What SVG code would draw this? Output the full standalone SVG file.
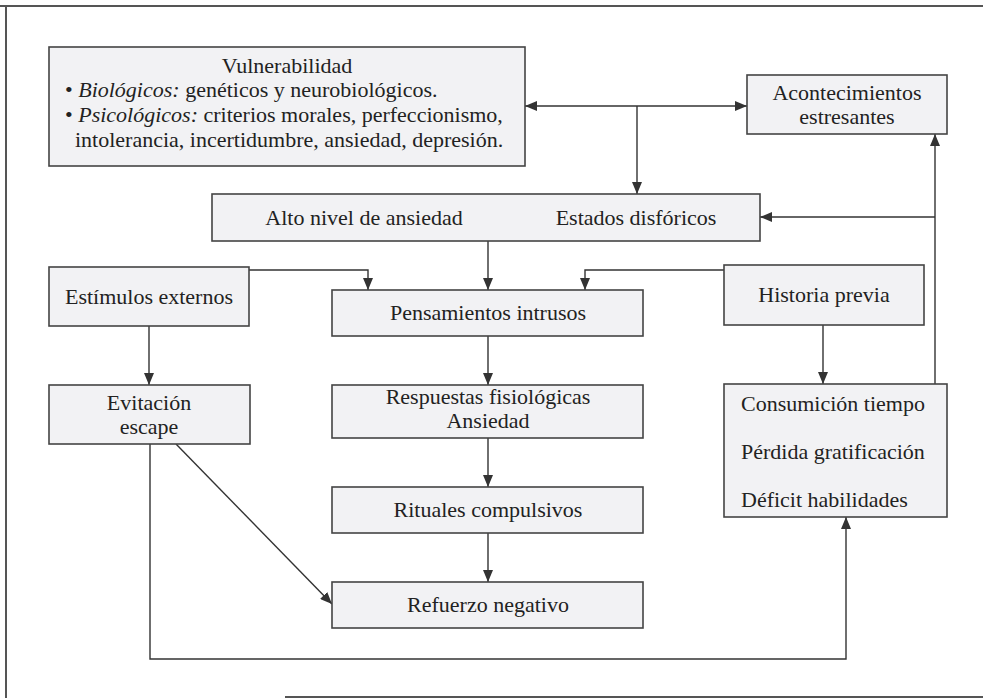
<svg xmlns="http://www.w3.org/2000/svg" width="983" height="698" viewBox="0 0 983 698">
<style>
.box{fill:#f2f2f4;stroke:#444;stroke-width:1.6}
.t{font-family:"Liberation Serif","Times New Roman",serif;font-size:22px;fill:#222}
.c{text-anchor:middle}
.ln{fill:none;stroke:#333;stroke-width:1.4}
.frame{fill:none;stroke:#555;stroke-width:2}
</style>
<defs>
<marker id="ah" viewBox="0 0 12 10" refX="12" refY="5" markerWidth="12" markerHeight="10" markerUnits="userSpaceOnUse" orient="auto-start-reverse">
<path d="M0,0 L12,5 L0,10 z" fill="#333"/>
</marker>
</defs>
<rect width="983" height="698" fill="#ffffff"/>
<g id="frame">
<line class="frame" x1="0" y1="6" x2="983" y2="6"/>
<line class="frame" x1="6" y1="6" x2="6" y2="698"/>
<line class="frame" x1="285" y1="697" x2="983" y2="697"/>
</g>
<g id="connectors">
<line class="ln" x1="525" y1="106" x2="747" y2="106" marker-start="url(#ah)" marker-end="url(#ah)"/>
<line class="ln" x1="637" y1="106" x2="637" y2="194" marker-end="url(#ah)"/>
<line class="ln" x1="935" y1="384" x2="935" y2="134" marker-end="url(#ah)"/>
<line class="ln" x1="935" y1="217" x2="760" y2="217" marker-end="url(#ah)"/>
<line class="ln" x1="488" y1="241" x2="488" y2="290" marker-end="url(#ah)"/>
<polyline class="ln" points="249,270 368,270 368,290" marker-end="url(#ah)"/>
<polyline class="ln" points="724,270 585,270 585,290" marker-end="url(#ah)"/>
<line class="ln" x1="149" y1="326" x2="149" y2="385" marker-end="url(#ah)"/>
<line class="ln" x1="488" y1="336" x2="488" y2="385" marker-end="url(#ah)"/>
<line class="ln" x1="488" y1="438" x2="488" y2="487" marker-end="url(#ah)"/>
<line class="ln" x1="488" y1="533" x2="488" y2="582" marker-end="url(#ah)"/>
<line class="ln" x1="823" y1="325" x2="823" y2="384" marker-end="url(#ah)"/>
<line class="ln" x1="176" y1="444" x2="332" y2="604" marker-end="url(#ah)"/>
<polyline class="ln" points="150,444 150,659 846,659 846,517" marker-end="url(#ah)"/>
</g>
<g id="vulnerabilidad">
<rect class="box" x="49" y="47" width="476" height="119"/>
<text class="t c" x="287" y="73">Vulnerabilidad</text>
<text class="t" x="65" y="97">• <tspan font-style="italic">Biológicos:</tspan> genéticos y neurobiológicos.</text>
<text class="t" x="65" y="122">• <tspan font-style="italic">Psicológicos:</tspan> criterios morales, perfeccionismo,</text>
<text class="t" x="75" y="147">intolerancia, incertidumbre, ansiedad, depresión.</text>
</g>
<g id="acontecimientos">
<rect class="box" x="747" y="75" width="200" height="59"/>
<text class="t c" x="847" y="100">Acontecimientos</text>
<text class="t c" x="847" y="124">estresantes</text>
</g>
<g id="ansiedad-disforicos">
<rect class="box" x="212" y="194" width="548" height="47"/>
<text class="t c" x="364" y="225">Alto nivel de ansiedad</text>
<text class="t c" x="636" y="225">Estados disfóricos</text>
</g>
<g id="estimulos">
<rect class="box" x="49" y="267" width="200" height="59"/>
<text class="t c" x="149" y="304">Estímulos externos</text>
</g>
<g id="pensamientos">
<rect class="box" x="332" y="290" width="311" height="46"/>
<text class="t c" x="488" y="320">Pensamientos intrusos</text>
</g>
<g id="historia">
<rect class="box" x="724" y="265" width="200" height="60"/>
<text class="t c" x="824" y="302">Historia previa</text>
</g>
<g id="evitacion">
<rect class="box" x="49" y="385" width="201" height="59"/>
<text class="t c" x="149" y="410">Evitación</text>
<text class="t c" x="149" y="434">escape</text>
</g>
<g id="respuestas">
<rect class="box" x="332" y="385" width="311" height="53"/>
<text class="t c" x="488" y="404">Respuestas fisiológicas</text>
<text class="t c" x="488" y="428">Ansiedad</text>
</g>
<g id="consumicion">
<rect class="box" x="724" y="384" width="223" height="133"/>
<text class="t" x="741" y="411">Consumición tiempo</text>
<text class="t" x="741" y="459">Pérdida gratificación</text>
<text class="t" x="741" y="507">Déficit habilidades</text>
</g>
<g id="rituales">
<rect class="box" x="332" y="487" width="311" height="46"/>
<text class="t c" x="488" y="517">Rituales compulsivos</text>
</g>
<g id="refuerzo">
<rect class="box" x="332" y="582" width="311" height="46"/>
<text class="t c" x="488" y="612">Refuerzo negativo</text>
</g>
</svg>
